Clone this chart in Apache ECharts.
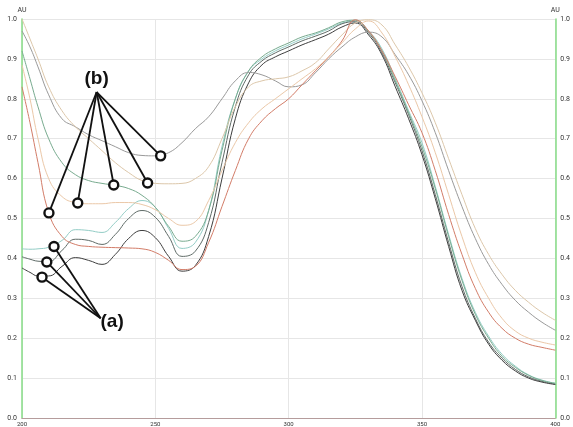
<!DOCTYPE html>
<html>
<head>
<meta charset="utf-8">
<script src="https://cdn.jsdelivr.net/npm/echarts@6/dist/echarts.min.js"></script>
<style>
  html, body { margin: 0; padding: 0; background: #fff; }
  #chart { width: 573px; height: 427px; }
</style>
</head>
<body>
<div id="chart"></div>
<script>
// wavelength (nm) samples shared by all spectra
const wavelengths = [200, 203, 206, 210, 215, 220, 225, 230, 235, 240, 245, 250, 255, 260, 265, 270, 275, 280, 285, 290,
  295, 300, 305, 310, 315, 320, 325, 330, 335, 340, 345, 350, 355, 360, 365, 370, 375, 380, 385, 390, 395, 400]

// (a) group
const a1 = [0.424, 0.423, 0.424, 0.428, 0.445, 0.472, 0.47, 0.465, 0.49, 0.525, 0.545, 0.528, 0.475, 0.425, 0.44, 0.52, 0.68, 0.8, 0.87, 0.9,
  0.92, 0.935, 0.95, 0.962, 0.975, 0.99, 0.995, 0.97, 0.925, 0.85, 0.77, 0.69, 0.58, 0.46, 0.35, 0.265, 0.205, 0.16, 0.13, 0.108, 0.095, 0.087]
const a2 = [0.404, 0.398, 0.393, 0.392, 0.42, 0.448, 0.445, 0.435, 0.46, 0.5, 0.52, 0.503, 0.455, 0.405, 0.418, 0.49, 0.64, 0.78, 0.86, 0.895,
  0.915, 0.93, 0.945, 0.957, 0.97, 0.988, 0.993, 0.965, 0.915, 0.84, 0.76, 0.67, 0.56, 0.44, 0.33, 0.25, 0.19, 0.15, 0.122, 0.103, 0.092, 0.085]
const a3 = [0.376, 0.365, 0.356, 0.356, 0.38, 0.402, 0.395, 0.385, 0.41, 0.45, 0.47, 0.452, 0.405, 0.368, 0.382, 0.455, 0.6, 0.75, 0.84, 0.885,
  0.905, 0.92, 0.935, 0.948, 0.962, 0.98, 0.99, 0.96, 0.91, 0.83, 0.75, 0.66, 0.55, 0.43, 0.32, 0.245, 0.185, 0.145, 0.118, 0.1, 0.09, 0.084]

// (b) group
const b1 = [0.97, 0.93, 0.88, 0.81, 0.75, 0.73, 0.71, 0.695, 0.68, 0.665, 0.658, 0.657, 0.665, 0.69, 0.725, 0.755, 0.8, 0.845, 0.866, 0.86,
  0.845, 0.83, 0.835, 0.865, 0.9, 0.93, 0.955, 0.967, 0.955, 0.91, 0.86, 0.795, 0.715, 0.62, 0.53, 0.45, 0.385, 0.335, 0.295, 0.265, 0.24, 0.22]
const b2 = [1.0, 0.95, 0.9, 0.83, 0.77, 0.73, 0.7, 0.67, 0.64, 0.615, 0.595, 0.588, 0.587, 0.588, 0.6, 0.63, 0.7, 0.78, 0.83, 0.845,
  0.85, 0.855, 0.87, 0.89, 0.925, 0.96, 0.99, 0.998, 0.985, 0.935, 0.88, 0.815, 0.74, 0.65, 0.56, 0.475, 0.41, 0.36, 0.32, 0.29, 0.265, 0.245]
const b3 = [0.83, 0.74, 0.64, 0.515, 0.455, 0.435, 0.43, 0.428, 0.427, 0.426, 0.424, 0.415, 0.395, 0.372, 0.38, 0.44, 0.53, 0.62, 0.7, 0.745,
  0.775, 0.8, 0.835, 0.87, 0.905, 0.945, 0.998, 0.97, 0.92, 0.855, 0.785, 0.715, 0.62, 0.51, 0.41, 0.325, 0.265, 0.225, 0.2, 0.185, 0.177, 0.17]
const b4 = [0.885, 0.8, 0.7, 0.6, 0.555, 0.54, 0.537, 0.537, 0.54, 0.54, 0.535, 0.522, 0.5, 0.483, 0.492, 0.545, 0.62, 0.69, 0.74, 0.775,
  0.8, 0.825, 0.85, 0.875, 0.905, 0.94, 0.975, 0.995, 0.965, 0.905, 0.835, 0.755, 0.665, 0.56, 0.455, 0.365, 0.3, 0.25, 0.218, 0.2, 0.19, 0.183]
const bX = [0.92, 0.85, 0.78, 0.7, 0.64, 0.61, 0.595, 0.588, 0.583, 0.575, 0.558, 0.528, 0.48, 0.443, 0.455, 0.52, 0.67, 0.8, 0.87, 0.905,
  0.925, 0.94, 0.955, 0.965, 0.978, 0.993, 0.997, 0.968, 0.92, 0.845, 0.765, 0.68, 0.575, 0.455, 0.345, 0.26, 0.2, 0.155, 0.127, 0.107, 0.094, 0.087]

// annotation anchors (nm, AU)
const bRoot = [228, 0.817]
const bMarks = [[210.1, 0.514], [220.9, 0.539], [234.4, 0.584], [247.1, 0.589], [252, 0.657]]
const aRoot = [229.5, 0.25]
const aMarks = [[212, 0.43], [209.3, 0.391], [207.5, 0.353]]
const labels = [{ text: '(b)', at: [228, 0.85] }, { text: '(a)', at: [233.8, 0.241] }]

const spectra = [
  { name: 'a1', values: a1, color: '#93cdc6' },
  { name: 'a2', values: a2, color: '#5f6b67' },
  { name: 'a3', values: a3, color: '#3e3e3e' },
  { name: 'bX', values: bX, color: '#78ab8f' },
  { name: 'b1', values: b1, color: '#9a9a9a' },
  { name: 'b2', values: b2, color: '#dcc7aa' },
  { name: 'b3', values: b3, color: '#d27c68' },
  { name: 'b4', values: b4, color: '#ebc8a8' }
]

const chart = echarts.init(document.getElementById('chart'))

const yAxisBase = {
  type: 'value',
  min: 0,
  max: 1,
  interval: 0.1,
  name: 'AU',
  nameLocation: 'end',
  nameGap: 5,
  nameTextStyle: { fontSize: 7, color: '#333', fontFamily: 'Roboto' },
  axisLine: { show: true, lineStyle: { color: '#86dd86', width: 1.5 } },
  axisTick: { show: false },
  axisLabel: { fontSize: 7, color: '#333', margin: 5, fontFamily: 'Roboto', formatter: v => v.toFixed(1) },
  splitLine: { lineStyle: { color: '#e6e6e6', width: 1 } }
}

const series = spectra.map(s => ({
  name: s.name,
  type: 'line',
  data: wavelengths.map((w, i) => [w, s.values[i]]),
  smooth: 0.45,
  symbol: 'none',
  lineStyle: { color: s.color, width: 1 },
  z: 2
}))

const pointerLines = []
bMarks.forEach(m => pointerLines.push([{ coord: bRoot }, { coord: m }]))
aMarks.forEach(m => pointerLines.push([{ coord: aRoot }, { coord: m }]))

series.push({
  name: 'pointers',
  type: 'line',
  data: [],
  z: 10,
  markLine: {
    silent: true,
    symbol: ['none', 'none'],
    animation: false,
    label: { show: false },
    lineStyle: { color: '#111', width: 1.8, type: 'solid', opacity: 1 },
    data: pointerLines
  }
})

series.push({
  name: 'circles',
  type: 'scatter',
  data: bMarks.concat(aMarks),
  symbol: 'circle',
  symbolSize: 9,
  itemStyle: { color: '#fff', borderColor: '#111', borderWidth: 2.4, opacity: 1 },
  z: 11
})

series.push({
  name: 'tags',
  type: 'scatter',
  data: labels.map(l => ({ value: l.at, name: l.text })),
  symbolSize: 1,
  itemStyle: { color: 'rgba(0,0,0,0)', opacity: 1 },
  label: {
    show: true,
    position: 'inside',
    formatter: p => p.name,
    fontSize: 19,
    fontWeight: 'bold',
    color: '#111',
    opacity: 1,
    fontFamily: 'Liberation Sans'
  },
  z: 12
})

const option = {
  animation: false,
  backgroundColor: '#fff',
  grid: { left: 22, right: 16, top: 19, bottom: 9, containLabel: false },
  xAxis: {
    type: 'value',
    min: 200,
    max: 400,
    interval: 50,
    axisLine: { show: true, lineStyle: { color: '#b59c9c', width: 1.2 } },
    axisTick: { show: false },
    axisLabel: { fontSize: 6, color: '#333', margin: 3, fontFamily: 'Roboto' },
    splitLine: { show: true, lineStyle: { color: '#e6e6e6', width: 1 } }
  },
  yAxis: [
    Object.assign({}, yAxisBase, { position: 'left' }),
    Object.assign({}, yAxisBase, { position: 'right', splitLine: { show: false } })
  ],
  series: series
}

chart.setOption(option)
</script>
</body>
</html>
